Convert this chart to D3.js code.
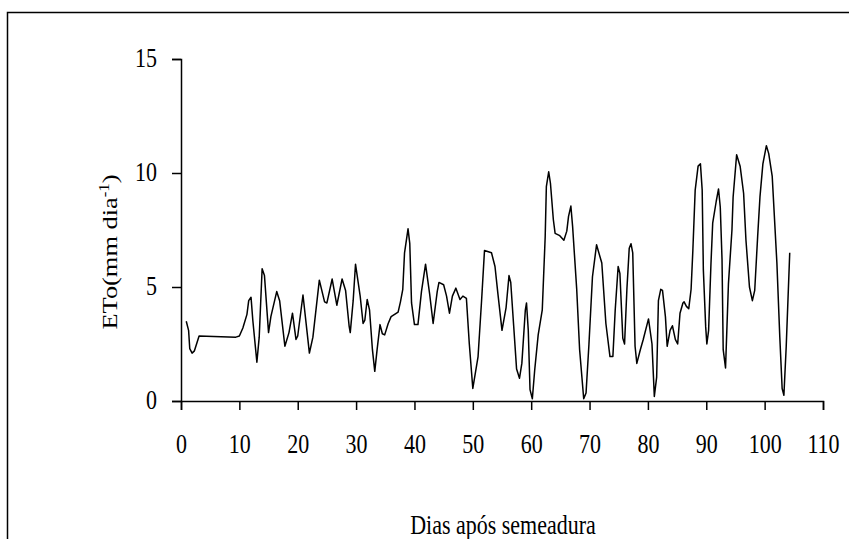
<!DOCTYPE html>
<html>
<head>
<meta charset="utf-8">
<script src="https://cdn.jsdelivr.net/npm/d3@7"></script>
<style>
  body { margin: 0; background: #fff; }
  svg { display: block; }
</style>
</head>
<body>
<div id="chart"></div>
<script>
// days after sowing and ETo (mm/day)
const days = [0.9,1.3,1.5,1.9,2.3,3.1,9.4,10,10.6,11.3,11.6,12,12.3,13,13.4,13.9,14.3,15,15.4,16.4,16.9,17.8,18.5,19.1,19.7,20,20.9,22,22.6,23.7,24.6,25,25.9,26.7,27.6,28.2,28.8,29,29.5,29.9,30.3,30.7,31.2,31.5,31.9,32.3,32.8,33.2,33.6,34.1,34.5,34.9,35.5,36,37.2,37.6,38,38.3,38.9,39.2,39.5,40,40.6,41.2,41.9,42.6,43.2,43.9,44.2,45,45.5,46,46.5,47.1,47.8,48.3,48.9,49.4,50,50.9,51.5,52,53.2,53.8,54.3,55,55.7,56.2,56.5,57,57.5,58,58.4,59,59.2,59.5,59.8,60.2,60.6,61.2,61.9,62.4,62.6,63,63.3,63.8,64.1,64.9,65.6,66.1,66.4,66.8,67.1,67.8,68.3,69,69.4,69.9,70.5,71.2,72.1,72.8,73.5,74,74.4,74.9,75.2,75.7,76,76.4,76.8,77.1,77.4,77.8,78.1,78.7,79.2,80.1,80.7,81.1,81.5,81.8,82.2,82.5,83,83.3,83.8,84.2,84.7,85.1,85.5,86,86.2,86.6,87,87.4,87.7,88.1,88.6,89,89.3,89.5,89.9,90.1,90.4,90.8,91.1,91.7,92.1,92.4,92.7,92.9,93.3,93.8,94.4,94.6,95.2,95.8,96.4,96.8,97.4,97.9,98.3,98.8,99.2,99.7,100.3,100.7,101.3,102.1,102.6,103,103.3,103.7,104.3];
const eto = [3.5,3.1,2.3,2.1,2.2,2.85,2.8,2.85,3.2,3.8,4.4,4.55,3.55,1.7,2.8,5.8,5.5,3.0,3.7,4.8,4.4,2.4,3.0,3.85,2.7,2.85,4.65,2.1,2.8,5.3,4.35,4.3,5.35,4.2,5.35,4.85,3.3,3.0,4.4,6.0,5.3,4.6,3.4,3.55,4.45,4.0,2.25,1.3,2.25,3.35,2.95,2.9,3.4,3.7,3.9,4.35,4.9,6.5,7.55,6.9,4.3,3.35,3.35,4.8,6.0,4.7,3.4,4.8,5.2,5.1,4.6,3.85,4.6,4.95,4.45,4.6,4.5,2.5,0.55,1.95,4.4,6.6,6.5,5.9,4.7,3.1,4.1,5.5,5.2,3.3,1.4,1.0,1.65,4.0,4.3,3.1,0.5,0.1,1.35,2.9,4.0,7.2,9.4,10.05,9.55,7.95,7.35,7.25,7.05,7.45,8.1,8.55,7.65,4.9,2.25,0.1,0.35,2.5,5.45,6.85,6.05,3.4,1.95,1.95,4.0,5.9,5.6,2.75,2.5,4.9,6.7,6.9,6.5,2.4,1.65,2.25,2.7,3.6,2.5,0.2,1.05,4.4,4.9,4.85,3.7,2.4,3.1,3.3,2.7,2.5,3.85,4.3,4.35,4.15,4.05,4.9,6.6,9.25,10.3,10.4,9.25,5.75,3.25,2.5,3.1,6.0,7.8,8.75,9.3,8.5,6.2,2.25,1.45,5.15,7.5,8.95,10.8,10.3,9.1,7.05,5.0,4.4,4.85,7.2,8.95,10.4,11.2,10.85,9.85,6.05,2.8,0.55,0.25,2.4,6.5];
const xTicks = [0,10,20,30,40,50,60,70,80,90,100,110];
const yTicks = [0,5,10,15];
const xTitle = "Dias após semeadura";

const W = 849, H = 539;
const margin = {top: 59, right: 26, bottom: 138, left: 181};
const width = W - margin.left - margin.right;
const height = H - margin.top - margin.bottom;
const font = "'Liberation Serif', 'Times New Roman', serif";
const fs = 22;
const stretch = 1.2; // the original text looks stretched vertically

const svg = d3.select("#chart").append("svg")
  .attr("width", W)
  .attr("height", H);

// outer frame (only top and left edges fall inside the picture)
svg.append("path")
  .attr("d", `M7.5,${H}V12.5H${W}`)
  .attr("fill", "none")
  .attr("stroke", "#000")
  .attr("stroke-width", 1.5);

const g = svg.append("g")
  .attr("transform", `translate(${margin.left},${margin.top})`);

const x = d3.scaleLinear().domain([0, 110]).range([0, width]);
const y = d3.scaleLinear().domain([0, 15]).range([height, 0]);

const xAxis = g.append("g")
  .attr("transform", `translate(0,${height})`)
  .call(d3.axisBottom(x).tickValues(xTicks).tickSize(9).tickFormat(d3.format("d")));

const yAxis = g.append("g")
  .call(d3.axisLeft(y).tickValues(yTicks).tickSize(9).tickPadding(15).tickFormat(d3.format("d")));

[xAxis, yAxis].forEach(a => {
  a.selectAll("path, line").attr("stroke", "#000").attr("stroke-width", 1.5);
  a.selectAll("text")
    .attr("fill", "#000")
    .attr("font-family", font)
    .attr("font-size", fs)
    .attr("transform", `scale(1,${stretch})`);
});
xAxis.selectAll("text").attr("y", 28);
yAxis.selectAll("text").attr("dy", "0.3em");

const line = d3.line()
  .x((d, i) => x(days[i]))
  .y(d => y(d));

g.append("path")
  .datum(eto)
  .attr("fill", "none")
  .attr("stroke", "#000")
  .attr("stroke-width", 1.5)
  .attr("stroke-linejoin", "round")
  .attr("d", line);

// axis titles
svg.append("text")
  .attr("transform", `translate(503,534) scale(1,${stretch})`)
  .attr("text-anchor", "middle")
  .attr("font-family", font)
  .attr("font-size", fs)
  .text(xTitle);

const yt = svg.append("text")
  .attr("transform", `translate(117,252) rotate(-90) scale(${stretch},1)`)
  .attr("text-anchor", "middle")
  .attr("font-family", font)
  .attr("font-size", fs);
yt.append("tspan").text("ETo(mm dia");
yt.append("tspan").attr("font-size", 14).attr("dy", -8).text("-1");
yt.append("tspan").attr("dy", 8).text(")");
</script>
</body>
</html>
